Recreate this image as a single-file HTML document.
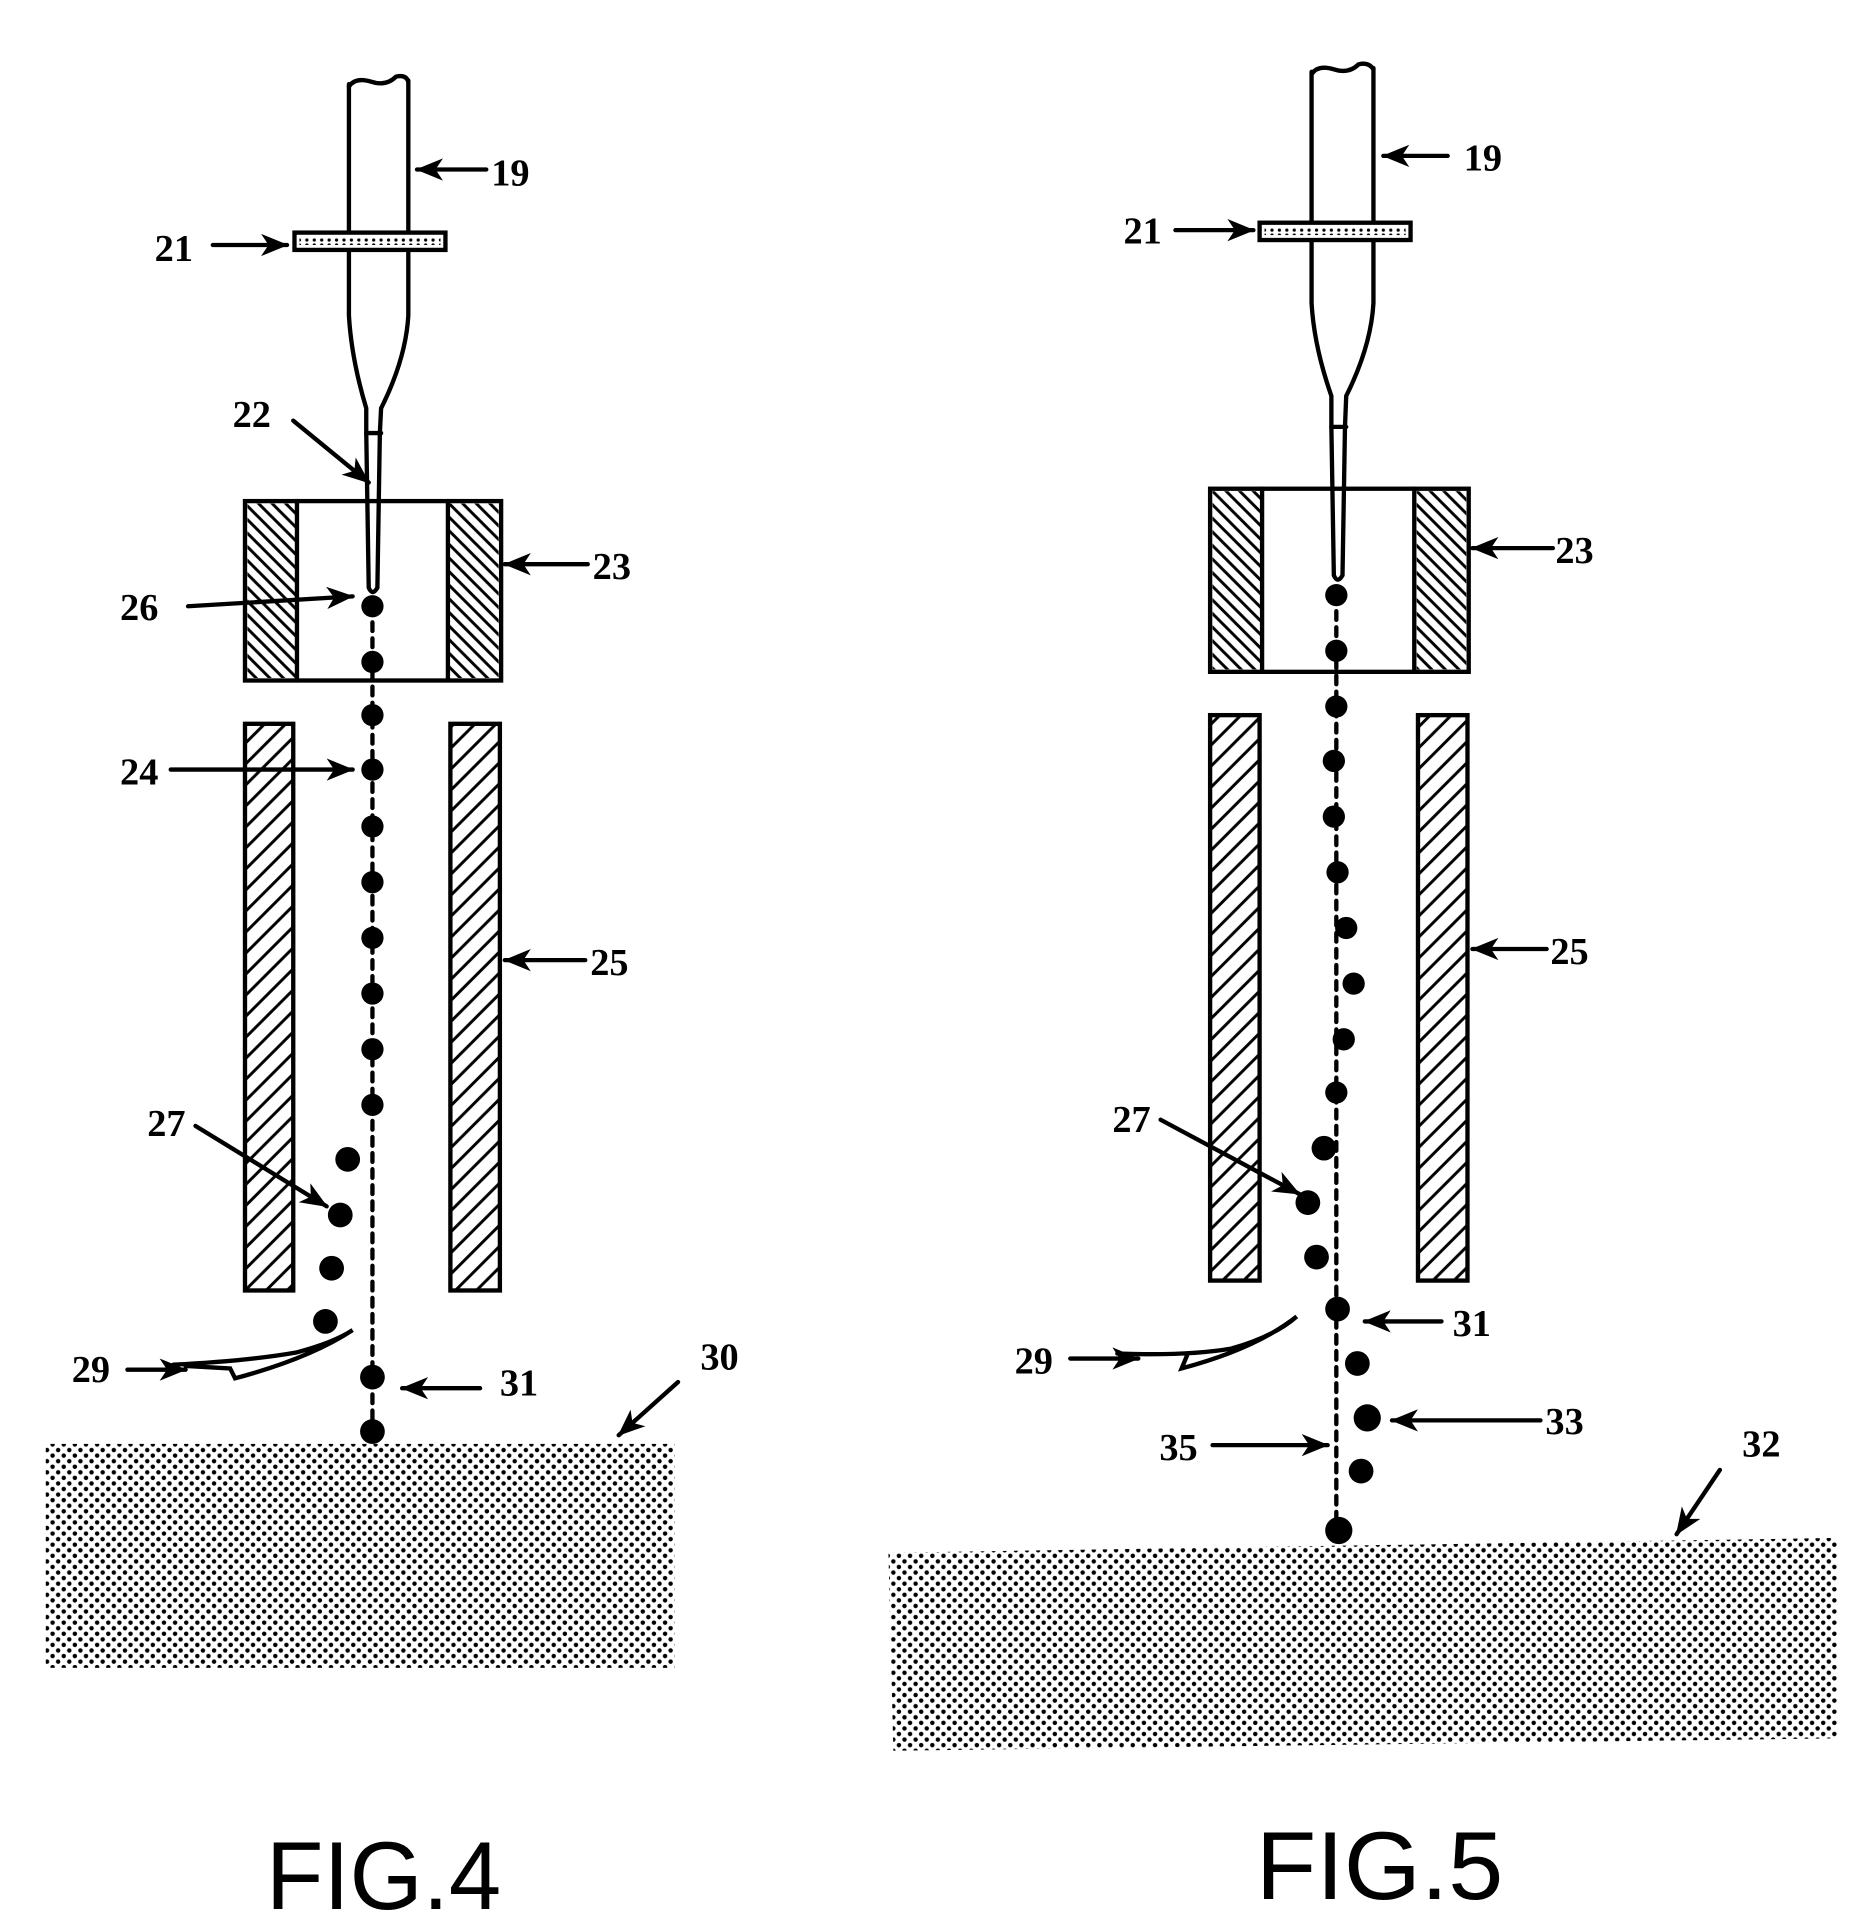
<!DOCTYPE html>
<html><head><meta charset="utf-8"><style>
html,body{margin:0;padding:0;background:#fff;}
svg{display:block;}
text{font-family:"Liberation Serif",serif;font-size:31px;font-weight:bold;fill:#000;}
.fig{font-family:"Liberation Sans",sans-serif;font-weight:normal;font-size:78px;}
</style></head><body>
<svg width="1856" height="1932" viewBox="0 0 1500 1561.5" preserveAspectRatio="none" xmlns="http://www.w3.org/2000/svg">
<defs>
<marker id="a2" markerWidth="22" markerHeight="18" refX="21" refY="9" orient="auto" markerUnits="userSpaceOnUse">
<path d="M0,0 L22,9 L0,18 L6,9 Z" fill="#000"/>
</marker>
<pattern id="hb" width="11" height="11" patternUnits="userSpaceOnUse">
<path d="M-2,-2 L13,13 M-2,9 L2,13 M9,-2 L13,2" stroke="#000" stroke-width="2.4"/>
</pattern>
<pattern id="hf" width="17" height="17" patternUnits="userSpaceOnUse">
<path d="M-2,19 L19,-2 M-2,2 L2,-2 M15,19 L19,15" stroke="#000" stroke-width="2.4"/>
</pattern>
<pattern id="st" width="9" height="9" patternUnits="userSpaceOnUse">
<circle cx="2" cy="2" r="1.8" fill="#000"/>
<circle cx="6.5" cy="6.5" r="1.8" fill="#000"/>
</pattern>
<pattern id="ds" width="6" height="4" patternUnits="userSpaceOnUse">
<circle cx="2" cy="2" r="1.3" fill="#000"/>
</pattern>
</defs>

<g stroke="#000" fill="none" stroke-width="3.5" stroke-linecap="round">
<!-- FIG 4 -->
<path d="M282,70 Q287,62 300,66 Q312,70 320,62 Q328,60 330,66"/>
<path d="M282,68 L282,255 Q284,290 296,330 L296,350 L298,475 Q301,482 305,475 L307,350 L308,330 Q328,290 330,255 L330,65"/>
<line x1="296" y1="350" x2="308" y2="350"/>
<rect x="238" y="188" width="122" height="14" fill="#fff"/>
<rect x="242" y="192" width="114" height="6" fill="url(#ds)" stroke="none"/>
<rect x="198" y="405" width="207" height="145"/>
<rect x="200" y="407" width="40" height="141" fill="url(#hb)" stroke="none"/>
<rect x="363" y="407" width="40" height="141" fill="url(#hb)" stroke="none"/>
<line x1="240" y1="405" x2="240" y2="550"/>
<line x1="362" y1="405" x2="362" y2="550"/>
<rect x="198" y="585" width="39" height="458" fill="url(#hf)"/>
<rect x="364" y="585" width="40" height="458" fill="url(#hf)"/>
<line x1="301" y1="490" x2="301" y2="1158" stroke-dasharray="7,6"/>
<path d="M140,1103 Q200,1100 240,1093 Q270,1085 285,1075 Q250,1098 190,1114 L186,1106 L150,1104"/>
<line x1="393" y1="137" x2="337" y2="137" marker-end="url(#a2)"/>
<line x1="172" y1="198" x2="232" y2="198" marker-end="url(#a2)"/>
<line x1="237" y1="340" x2="298" y2="390" marker-end="url(#a2)"/>
<line x1="475" y1="456" x2="408" y2="456" marker-end="url(#a2)"/>
<line x1="152" y1="490" x2="285" y2="482" marker-end="url(#a2)"/>
<line x1="138" y1="622" x2="285" y2="622" marker-end="url(#a2)"/>
<line x1="473" y1="776" x2="408" y2="776" marker-end="url(#a2)"/>
<line x1="158" y1="910" x2="264" y2="975" marker-end="url(#a2)"/>
<line x1="103" y1="1107" x2="150" y2="1107" marker-end="url(#a2)"/>
<line x1="388" y1="1122" x2="325" y2="1122" marker-end="url(#a2)"/>
<line x1="548" y1="1117" x2="500" y2="1160" marker-end="url(#a2)"/>

<!-- FIG 5 -->
<path d="M1060,60 Q1065,52 1078,56 Q1090,60 1098,52 Q1106,50 1110,56"/>
<path d="M1060,58 L1060,245 Q1062,280 1076,320 L1076,345 L1078,465 Q1081,472 1085,465 L1087,345 L1088,320 Q1108,280 1110,245 L1110,55"/>
<line x1="1076" y1="345" x2="1088" y2="345"/>
<rect x="1018" y="180" width="122" height="14" fill="#fff"/>
<rect x="1022" y="184" width="114" height="6" fill="url(#ds)" stroke="none"/>
<rect x="978" y="395" width="209" height="148"/>
<rect x="980" y="397" width="40" height="144" fill="url(#hb)" stroke="none"/>
<rect x="1145" y="397" width="40" height="144" fill="url(#hb)" stroke="none"/>
<line x1="1020" y1="395" x2="1020" y2="543"/>
<line x1="1143" y1="395" x2="1143" y2="543"/>
<rect x="978" y="578" width="40" height="457" fill="url(#hf)"/>
<rect x="1146" y="578" width="40" height="457" fill="url(#hf)"/>
<line x1="1080" y1="481" x2="1080" y2="1237" stroke-dasharray="7,6"/>
<path d="M903,1094 Q960,1096 995,1090 Q1030,1080 1048,1064 Q1015,1090 955,1106 L960,1094"/>
<line x1="1170" y1="126" x2="1118" y2="126" marker-end="url(#a2)"/>
<line x1="950" y1="186" x2="1013" y2="186" marker-end="url(#a2)"/>
<line x1="1255" y1="443" x2="1190" y2="443" marker-end="url(#a2)"/>
<line x1="1250" y1="767" x2="1190" y2="767" marker-end="url(#a2)"/>
<line x1="938" y1="905" x2="1050" y2="965" marker-end="url(#a2)"/>
<line x1="865" y1="1098" x2="920" y2="1098" marker-end="url(#a2)"/>
<line x1="1165" y1="1068" x2="1103" y2="1068" marker-end="url(#a2)"/>
<line x1="1245" y1="1148" x2="1125" y2="1148" marker-end="url(#a2)"/>
<line x1="980" y1="1168" x2="1073" y2="1168" marker-end="url(#a2)"/>
<line x1="1390" y1="1188" x2="1355" y2="1240" marker-end="url(#a2)"/>
</g>

<g fill="#000">
<circle cx="301" cy="490" r="9"/><circle cx="301" cy="535" r="9"/><circle cx="301" cy="578" r="9"/>
<circle cx="301" cy="622" r="9"/><circle cx="301" cy="668" r="9"/><circle cx="301" cy="713" r="9"/>
<circle cx="301" cy="758" r="9"/><circle cx="301" cy="803" r="9"/><circle cx="301" cy="848" r="9"/>
<circle cx="301" cy="893" r="9"/>
<circle cx="281" cy="937" r="10"/><circle cx="275" cy="982" r="10"/><circle cx="268" cy="1025" r="10"/><circle cx="263" cy="1068" r="10"/>
<circle cx="301" cy="1113" r="10"/><circle cx="301" cy="1157" r="10"/>
<circle cx="1080" cy="481" r="9"/><circle cx="1080" cy="526" r="9"/><circle cx="1080" cy="571" r="9"/>
<circle cx="1078" cy="615" r="9"/><circle cx="1078" cy="660" r="9"/><circle cx="1081" cy="705" r="9"/>
<circle cx="1088" cy="750" r="9"/><circle cx="1094" cy="795" r="9"/><circle cx="1086" cy="840" r="9"/>
<circle cx="1080" cy="883" r="9"/><circle cx="1070" cy="928" r="10"/><circle cx="1057" cy="972" r="10"/>
<circle cx="1064" cy="1016" r="10"/><circle cx="1081" cy="1058" r="10"/>
<circle cx="1097" cy="1102" r="10"/><circle cx="1105" cy="1146" r="11"/><circle cx="1100" cy="1189" r="10"/>
<circle cx="1082" cy="1237" r="11"/>
</g>

<rect x="37" y="1167" width="508" height="181" fill="url(#st)"/>
<polygon points="718,1255 1485,1243 1485,1405 722,1415" fill="url(#st)"/>

<text x="397" y="150">19</text>
<text x="125" y="211">21</text>
<text x="188" y="345">22</text>
<text x="479" y="468">23</text>
<text x="97" y="501">26</text>
<text x="97" y="634">24</text>
<text x="477" y="788">25</text>
<text x="119" y="918">27</text>
<text x="58" y="1117">29</text>
<text x="404" y="1128">31</text>
<text x="566" y="1107">30</text>
<text class="fig" x="215" y="1543" textLength="190" lengthAdjust="spacingAndGlyphs">FIG.4</text>

<text x="1183" y="138">19</text>
<text x="908" y="197">21</text>
<text x="1257" y="455">23</text>
<text x="1253" y="779">25</text>
<text x="899" y="915">27</text>
<text x="820" y="1110">29</text>
<text x="1174" y="1080">31</text>
<text x="1249" y="1159">33</text>
<text x="937" y="1180">35</text>
<text x="1408" y="1177">32</text>
<text class="fig" x="1015" y="1535" textLength="200" lengthAdjust="spacingAndGlyphs">FIG.5</text>
</svg>
</body></html>
